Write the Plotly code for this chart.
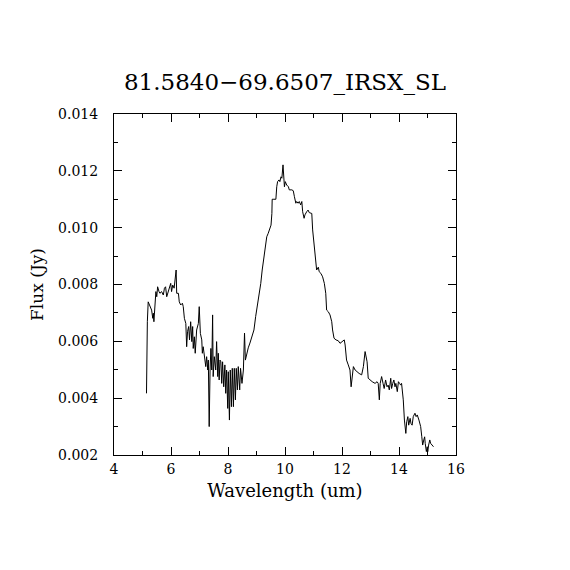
import plotly.graph_objects as go

title_text = "81.5840\u221269.6507_IRSX_SL"
x_label = "Wavelength (um)"
y_label = "Flux (Jy)"

wavelength = [
    5.14, 5.15, 5.17, 5.20, 5.26, 5.32, 5.36, 5.38, 5.40, 5.44, 5.47, 5.50, 5.53, 5.58, 5.61,
    5.67, 5.73, 5.77, 5.81, 5.85, 5.88, 5.94, 5.99, 6.02, 6.06, 6.11, 6.14, 6.18, 6.20, 6.26,
    6.29, 6.34, 6.40, 6.43, 6.47, 6.52, 6.55, 6.58, 6.62, 6.65, 6.69, 6.73, 6.76, 6.78, 6.82,
    6.85, 6.90, 6.96, 6.99, 7.03, 7.08, 7.10, 7.13, 7.17, 7.22, 7.25, 7.29, 7.31, 7.34, 7.37,
    7.40, 7.43, 7.46, 7.48, 7.52, 7.57, 7.60, 7.64, 7.66, 7.69, 7.72, 7.75, 7.78, 7.81, 7.85,
    7.89, 7.92, 7.95, 7.99, 8.01, 8.05, 8.08, 8.12, 8.15, 8.19, 8.22, 8.26, 8.29, 8.33, 8.36,
    8.41, 8.44, 8.49, 8.54, 8.58, 8.61, 8.67, 8.71, 8.77, 8.84, 8.91, 8.97, 9.03, 9.09, 9.15,
    9.20, 9.26, 9.31, 9.36, 9.41, 9.47, 9.51, 9.54, 9.55, 9.61, 9.68, 9.71, 9.74, 9.79, 9.82,
    9.86, 9.89, 9.93, 9.95, 9.98, 10.01, 10.06, 10.12, 10.15, 10.24, 10.29, 10.33, 10.38, 10.41,
    10.46, 10.50, 10.55, 10.59, 10.62, 10.67, 10.70, 10.76, 10.81, 10.85, 10.94, 10.97, 11.02,
    11.06, 11.11, 11.17, 11.20, 11.26, 11.32, 11.38, 11.43, 11.46, 11.52, 11.58, 11.64, 11.67,
    11.72, 11.79, 11.87, 11.93, 12.01, 12.08, 12.11, 12.16, 12.22, 12.28, 12.32, 12.36, 12.40,
    12.46, 12.52, 12.60, 12.69, 12.75, 12.81, 12.84, 12.88, 12.92, 12.98, 13.06, 13.16, 13.23,
    13.27, 13.31, 13.34, 13.39, 13.44, 13.48, 13.53, 13.58, 13.62, 13.66, 13.71, 13.74, 13.78,
    13.82, 13.86, 13.89, 13.94, 13.98, 14.02, 14.06, 14.09, 14.15, 14.19, 14.24, 14.27, 14.31,
    14.34, 14.39, 14.42, 14.46, 14.50, 14.56, 14.60, 14.64, 14.70, 14.76, 14.80, 14.83, 14.87,
    14.90, 14.92, 14.96, 14.99, 15.01, 15.04, 15.08, 15.11, 15.15, 15.21,
]

flux = [
    0.00417, 0.00616, 0.00669, 0.00739, 0.00722, 0.00710, 0.00681, 0.00699, 0.00669, 0.00745,
    0.00775, 0.00757, 0.00792, 0.00775, 0.00769, 0.00775, 0.00763, 0.00787, 0.00792, 0.00757,
    0.00769, 0.00787, 0.00804, 0.00775, 0.00798, 0.00787, 0.00810, 0.00851, 0.00769, 0.00769,
    0.00739, 0.00728, 0.00734, 0.00722, 0.00681, 0.00663, 0.00581, 0.00634, 0.00652, 0.00605,
    0.00669, 0.00599, 0.00652, 0.00575, 0.00616, 0.00558, 0.00640, 0.00663, 0.00722, 0.00628,
    0.00605, 0.00558, 0.00581, 0.00546, 0.00511, 0.00546, 0.00499, 0.00534, 0.00300, 0.00499,
    0.00575, 0.00499, 0.00693, 0.00476, 0.00546, 0.00499, 0.00599, 0.00476, 0.00558, 0.00464,
    0.00534, 0.00528, 0.00452, 0.00528, 0.00440, 0.00517, 0.00417, 0.00499, 0.00364, 0.00493,
    0.00323, 0.00499, 0.00370, 0.00505, 0.00370, 0.00505, 0.00394, 0.00505, 0.00429, 0.00511,
    0.00429, 0.00505, 0.00452, 0.00499, 0.00629, 0.00534, 0.00569, 0.00577, 0.00594, 0.00615,
    0.00640, 0.00687, 0.00722, 0.00757, 0.00804, 0.00851, 0.00898, 0.00945, 0.00968, 0.00980,
    0.00994, 0.01009, 0.01050, 0.01100, 0.01100, 0.01100, 0.01144, 0.01162, 0.01168, 0.01162,
    0.01179, 0.01174, 0.01221, 0.01179, 0.01144, 0.01162, 0.01150, 0.01144, 0.01133, 0.01133,
    0.01130, 0.01109, 0.01086, 0.01092, 0.01086, 0.01092, 0.01080, 0.01092, 0.01056, 0.01033,
    0.01045, 0.01056, 0.01062, 0.01053, 0.01050, 0.00992, 0.00933, 0.00886, 0.00851, 0.00861,
    0.00845, 0.00839, 0.00827, 0.00804, 0.00769, 0.00710, 0.00704, 0.00693, 0.00669, 0.00640,
    0.00611, 0.00605, 0.00602, 0.00593, 0.00599, 0.00605, 0.00587, 0.00534, 0.00517, 0.00499,
    0.00440, 0.00476, 0.00511, 0.00499, 0.00493, 0.00487, 0.00482, 0.00511, 0.00564, 0.00552,
    0.00528, 0.00470, 0.00464, 0.00458, 0.00452, 0.00458, 0.00452, 0.00394, 0.00452, 0.00476,
    0.00452, 0.00434, 0.00464, 0.00440, 0.00446, 0.00429, 0.00470, 0.00434, 0.00452, 0.00464,
    0.00440, 0.00452, 0.00423, 0.00458, 0.00452, 0.00446, 0.00452, 0.00394, 0.00323, 0.00276,
    0.00317, 0.00335, 0.00305, 0.00329, 0.00311, 0.00305, 0.00335, 0.00347, 0.00335, 0.00341,
    0.00323, 0.00300, 0.00264, 0.00235, 0.00253, 0.00264, 0.00241, 0.00212, 0.00229, 0.00212,
    0.00235, 0.00253, 0.00241, 0.00235, 0.00229,
]

x_range = [4, 16]
y_range = [0.002, 0.014]

FONT = "DejaVu Serif"

fig = go.Figure()
fig.add_trace(go.Scatter(
    x=wavelength, y=flux, mode="lines",
    line=dict(color="black", width=1),
    showlegend=False, hoverinfo="skip",
))

axis_common = dict(
    showline=True, linecolor="black", linewidth=1, mirror="allticks",
    ticks="inside", ticklen=8, tickwidth=1, tickcolor="black",
    showgrid=False, zeroline=False,
    tickfont=dict(family=FONT, size=14, color="black"),
)

fig.update_xaxes(
    range=x_range, dtick=2, tick0=4,
    minor=dict(ticks="inside", ticklen=4, dtick=1, tickcolor="black", showgrid=False),
    title_text=x_label, title_standoff=8, ticklabelstandoff=1,
    title_font=dict(family=FONT, size=18, color="black"),
    **axis_common,
)
fig.update_yaxes(
    range=y_range, dtick=0.002, tick0=0.002, tickformat=".3f",
    minor=dict(ticks="inside", ticklen=4, dtick=0.001, tickcolor="black", showgrid=False),
    title_text=y_label, title_standoff=10, ticklabelstandoff=12,
    title_font=dict(family=FONT, size=17, color="black"),
    **axis_common,
)

fig.update_layout(
    width=570, height=570,
    margin=dict(l=106, r=122, t=106, b=123, autoexpand=False),
    paper_bgcolor="white", plot_bgcolor="white",
    title=dict(text=title_text, x=(106 + 171) / 570, xanchor="center", y=1 - 74 / 570,
               yanchor="middle", yref="container",
               font=dict(family=FONT, size=23, color="black")),
)

fig.write_html("out.html")
